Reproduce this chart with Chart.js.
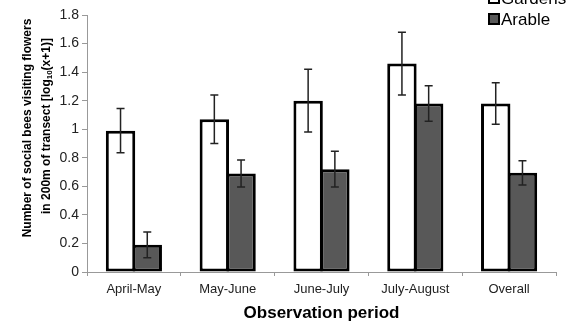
<!DOCTYPE html>
<html>
<head>
<meta charset="utf-8">
<script src="https://cdn.jsdelivr.net/npm/chart.js@4"></script>
<style>
  html, body { margin: 0; padding: 0; background: #fff; }
  #wrap { width: 569px; height: 325px; position: relative; }
</style>
</head>
<body>
<div id="wrap"><canvas id="chart"></canvas></div>
<script>
const categories = ["April-May", "May-June", "June-July", "July-August", "Overall"];
const gardens = [0.99, 1.07, 1.20, 1.46, 1.18];
const gardensErr = [0.155, 0.17, 0.22, 0.22, 0.145];
const arable = [0.19, 0.69, 0.72, 1.18, 0.695];
const arableErr = [0.09, 0.095, 0.125, 0.125, 0.085];
const yTickLabels = ["0", "0.2", "0.4", "0.6", "0.8", "1", "1.2", "1.4", "1.6", "1.8"];

const FONT = "'Liberation Sans', Arial, sans-serif";

// error bars on top of each bar
const errorBars = {
  id: "errorBars",
  afterDatasetsDraw(chart) {
    const ctx = chart.ctx;
    const y = chart.scales.y;
    chart.data.datasets.forEach((ds, di) => {
      const meta = chart.getDatasetMeta(di);
      meta.data.forEach((bar, i) => {
        const v = ds.data[i], e = ds.errors[i];
        const top = y.getPixelForValue(v + e);
        const bot = y.getPixelForValue(v - e);
        ctx.save();
        ctx.strokeStyle = "#222";
        ctx.lineWidth = 1.5;
        ctx.beginPath();
        ctx.moveTo(bar.x, top); ctx.lineTo(bar.x, bot);
        ctx.moveTo(bar.x - 4, top); ctx.lineTo(bar.x + 4, top);
        ctx.moveTo(bar.x - 4, bot); ctx.lineTo(bar.x + 4, bot);
        ctx.stroke();
        ctx.restore();
      });
    });
  }
};

// titles + legend drawn by hand (subscript in the y title)
const labelsPlugin = {
  id: "labelsPlugin",
  afterDraw(chart) {
    const ctx = chart.ctx;
    const area = chart.chartArea;
    ctx.save();
    ctx.fillStyle = "#000";

    // x title
    ctx.font = "bold 17px " + FONT;
    ctx.textAlign = "center";
    ctx.textBaseline = "middle";
    ctx.fillText("Observation period", (area.left + area.right) / 2, 313);

    // y title, line 1
    ctx.save();
    ctx.translate(28, 128);
    ctx.rotate(-Math.PI / 2);
    ctx.font = "bold 12px " + FONT;
    ctx.fillText("Number of social bees visiting flowers", 0, 0);
    ctx.restore();

    // y title, line 2 with subscript
    ctx.save();
    ctx.translate(47, 126);
    ctx.rotate(-Math.PI / 2);
    ctx.textAlign = "left";
    const parts = [
      { t: "in 200m of transect [log", f: "bold 12px " + FONT, dy: 0 },
      { t: "10", f: "bold 8px " + FONT, dy: 3 },
      { t: "(x+1)]", f: "bold 12px " + FONT, dy: 0 }
    ];
    let total = 0;
    parts.forEach(p => { ctx.font = p.f; p.w = ctx.measureText(p.t).width; total += p.w; });
    let x = -total / 2;
    parts.forEach(p => { ctx.font = p.f; ctx.fillText(p.t, x, p.dy); x += p.w; });
    ctx.restore();

    // legend
    const rows = [[0, -2], [1, 19]];
    ctx.font = "17px " + FONT;
    ctx.textAlign = "left";
    rows.forEach(([di, cy]) => {
      const ds = chart.data.datasets[di];
      ctx.fillStyle = ds.backgroundColor;
      ctx.fillRect(489, cy - 5, 10, 10);
      ctx.strokeStyle = "#000";
      ctx.lineWidth = 2;
      ctx.strokeRect(489, cy - 5, 10, 10);
      ctx.fillStyle = "#000";
      ctx.fillText(ds.label, 501, cy + 1);
    });
    ctx.restore();
  }
};

new Chart(document.getElementById("chart"), {
  type: "bar",
  data: {
    labels: categories,
    datasets: [
      {
        label: "Gardens",
        data: gardens,
        errors: gardensErr,
        backgroundColor: "#ffffff",
        borderColor: "#000000",
        borderWidth: 3,
        borderSkipped: false,
        categoryPercentage: 0.57,
        barPercentage: 1.1
      },
      {
        label: "Arable",
        data: arable,
        errors: arableErr,
        backgroundColor: "#585858",
        borderColor: "#000000",
        borderWidth: 3,
        borderSkipped: false,
        categoryPercentage: 0.57,
        barPercentage: 1.1
      }
    ]
  },
  options: {
    responsive: true,
    maintainAspectRatio: false,
    animation: false,
    layout: { padding: { top: 15, right: 13, left: 0, bottom: 0 } },
    plugins: {
      legend: { display: false },
      tooltip: { enabled: false }
    },
    scales: {
      x: {
        afterFit: (s) => { s.height = 53; },
        grid: { display: true, drawOnChartArea: false, drawTicks: true, tickLength: 4, color: "#999", offset: true },
        border: { color: "#999", width: 1 },
        ticks: { color: "#222", font: { family: FONT, size: 13 }, padding: 6 }
      },
      y: {
        min: 0,
        max: 1.8,
        afterFit: (s) => { s.width = 87; },
        grid: { display: true, drawOnChartArea: false, drawTicks: true, tickLength: 5, color: "#999" },
        border: { color: "#999", width: 1 },
        ticks: {
          stepSize: 0.2,
          color: "#222",
          font: { family: FONT, size: 14 },
          padding: 3,
          callback: (v, i) => yTickLabels[i]
        }
      }
    }
  },
  plugins: [errorBars, labelsPlugin]
});
</script>
</body>
</html>
